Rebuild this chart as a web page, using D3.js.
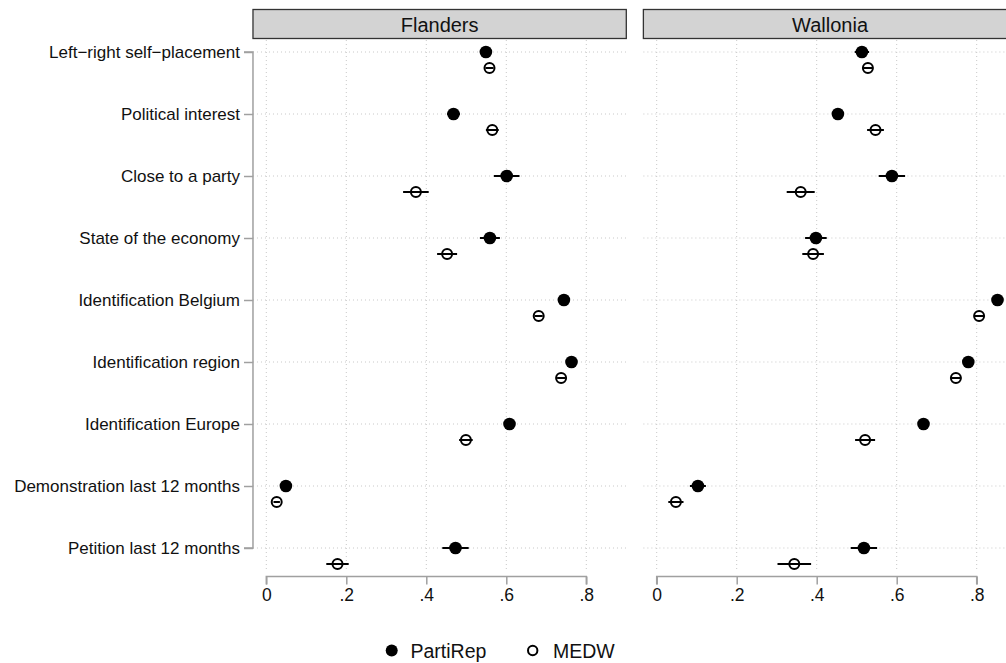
<!DOCTYPE html>
<html>
<head>
<meta charset="utf-8">
<script src="https://cdn.jsdelivr.net/npm/d3@7"></script>
<style>
  body { margin: 0; background: #fff; }
  svg { font-family: "Liberation Sans", Arial, Helvetica, sans-serif; }
</style>
</head>
<body>
<div id="chart"></div>
<script>
const categories = [
  "Left\u2212right self\u2212placement",
  "Political interest",
  "Close to a party",
  "State of the economy",
  "Identification Belgium",
  "Identification region",
  "Identification Europe",
  "Demonstration last 12 months",
  "Petition last 12 months"
];
const regions = ["Flanders", "Wallonia"];
const xTicks = [0, 0.2, 0.4, 0.6, 0.8];

// point estimates
const flandersPartiRep = [0.549, 0.468, 0.601, 0.559, 0.744, 0.763, 0.608, 0.049, 0.473];
const flandersMEDW     = [0.558, 0.565, 0.374, 0.452, 0.681, 0.737, 0.499, 0.026, 0.178];
const walloniaPartiRep = [0.513, 0.453, 0.588, 0.398, 0.852, 0.779, 0.667, 0.103, 0.518];
const walloniaMEDW     = [0.528, 0.547, 0.360, 0.391, 0.806, 0.748, 0.521, 0.048, 0.344];
// half-width of confidence intervals
const flandersPartiRepCI = [0.015, 0.016, 0.032, 0.025, 0.010, 0.009, 0.011, 0.008, 0.033];
const flandersMEDWCI     = [0.010, 0.016, 0.032, 0.025, 0.010, 0.010, 0.017, 0.008, 0.028];
const walloniaPartiRepCI = [0.018, 0.013, 0.033, 0.027, 0.012, 0.010, 0.010, 0.020, 0.033];
const walloniaMEDWCI     = [0.012, 0.021, 0.035, 0.027, 0.012, 0.013, 0.025, 0.019, 0.042];

const W = 1006, H = 663;
const GRID = "#c8c8c8";
const AXIS = "#a0a0a0";
const FONT = "Liberation Sans, Arial, sans-serif";

const svg = d3.select("#chart").append("svg")
  .attr("width", W).attr("height", H);

const y = d3.scalePoint().domain(categories).range([52, 548]);
const MEDW_OFFSET = 16;
const plotTop = 39, plotBottom = 572;

const panels = [
  { name: regions[0], x0: 266.3, pr: flandersPartiRep, prCI: flandersPartiRepCI, md: flandersMEDW, mdCI: flandersMEDWCI },
  { name: regions[1], x0: 656.7, pr: walloniaPartiRep, prCI: walloniaPartiRepCI, md: walloniaMEDW, mdCI: walloniaMEDWCI }
];

panels.forEach((p, pi) => {
  const x = d3.scaleLinear().domain([0, 0.8]).range([p.x0, p.x0 + 320]);
  const left = x(-0.0333), right = x(0.9);
  const g = svg.append("g");

  // header strip
  g.append("rect")
    .attr("x", left).attr("y", 9.5)
    .attr("width", right - left).attr("height", 29)
    .attr("fill", "#d3d3d3").attr("stroke", "#333").attr("stroke-width", 1.3);
  g.append("text")
    .attr("x", (left + right) / 2).attr("y", 31.5)
    .attr("text-anchor", "middle").attr("font-size", 20).attr("fill", "#111")
    .text(p.name);

  // grid
  g.selectAll(".vgrid").data(xTicks).join("line")
    .attr("x1", d => x(d)).attr("x2", d => x(d))
    .attr("y1", plotTop + 1).attr("y2", plotBottom)
    .attr("stroke", GRID).attr("stroke-width", 1).attr("stroke-dasharray", "1,3");
  g.selectAll(".hgrid").data(categories).join("line")
    .attr("x1", left).attr("x2", right)
    .attr("y1", d => y(d)).attr("y2", d => y(d))
    .attr("stroke", GRID).attr("stroke-width", 1).attr("stroke-dasharray", "1,3");

  // x axis
  const xAxis = g.append("g")
    .attr("transform", `translate(0,${576.5})`)
    .call(d3.axisBottom(x).tickValues(xTicks).tickSize(8).tickPadding(4)
      .tickFormat(d => d === 0 ? "0" : d3.format(".1f")(d).replace(/^0/, "")));
  xAxis.select(".domain").attr("stroke", AXIS).attr("stroke-width", 1.5)
    .attr("d", `M${x(0)},8V0H${x(0.8)}V8`);
  xAxis.selectAll(".tick line").attr("stroke", AXIS).attr("stroke-width", 1.5);
  xAxis.selectAll(".tick text").attr("font-size", 17.5).attr("fill", "#111")
    .attr("font-family", FONT);

  // y axis only on first panel
  if (pi === 0) {
    const yAxis = g.append("g")
      .attr("transform", `translate(${left},0)`)
      .call(d3.axisLeft(y).tickSize(9).tickPadding(4));
    yAxis.select(".domain").attr("stroke", AXIS).attr("stroke-width", 1.5)
      .attr("d", `M-9,${y(categories[0])}H0V${y(categories[categories.length - 1])}H-9`);
    yAxis.selectAll(".tick line").attr("stroke", AXIS).attr("stroke-width", 1.5);
    yAxis.selectAll(".tick text").attr("font-size", 17).attr("fill", "#111")
      .attr("font-family", FONT);
  }

  // data
  const rowsPR = categories.map((c, i) => ({ c, v: p.pr[i], ci: p.prCI[i] }));
  const rowsMD = categories.map((c, i) => ({ c, v: p.md[i], ci: p.mdCI[i] }));

  g.selectAll(".ciPR").data(rowsPR).join("line")
    .attr("x1", d => x(d.v - d.ci)).attr("x2", d => x(d.v + d.ci))
    .attr("y1", d => y(d.c)).attr("y2", d => y(d.c))
    .attr("stroke", "#000").attr("stroke-width", 2);
  g.selectAll(".ptPR").data(rowsPR).join("circle")
    .attr("cx", d => x(d.v)).attr("cy", d => y(d.c)).attr("r", 6.3)
    .attr("fill", "#000");

  g.selectAll(".ciMD").data(rowsMD).join("line")
    .attr("x1", d => x(d.v - d.ci)).attr("x2", d => x(d.v + d.ci))
    .attr("y1", d => y(d.c) + MEDW_OFFSET).attr("y2", d => y(d.c) + MEDW_OFFSET)
    .attr("stroke", "#000").attr("stroke-width", 2);
  g.selectAll(".ptMD").data(rowsMD).join("circle")
    .attr("cx", d => x(d.v)).attr("cy", d => y(d.c) + MEDW_OFFSET).attr("r", 5)
    .attr("fill", "none").attr("stroke", "#000").attr("stroke-width", 2);
});

// legend
const legend = svg.append("g");
legend.append("circle").attr("cx", 391.7).attr("cy", 650.5).attr("r", 6).attr("fill", "#000");
legend.append("text").attr("x", 410.5).attr("y", 657.5).attr("font-size", 19.5).attr("fill", "#111").text("PartiRep");
legend.append("circle").attr("cx", 532.7).attr("cy", 650.5).attr("r", 4.7)
  .attr("fill", "none").attr("stroke", "#000").attr("stroke-width", 2);
legend.append("text").attr("x", 553).attr("y", 657.5).attr("font-size", 19.5).attr("fill", "#111").text("MEDW");
</script>
</body>
</html>
